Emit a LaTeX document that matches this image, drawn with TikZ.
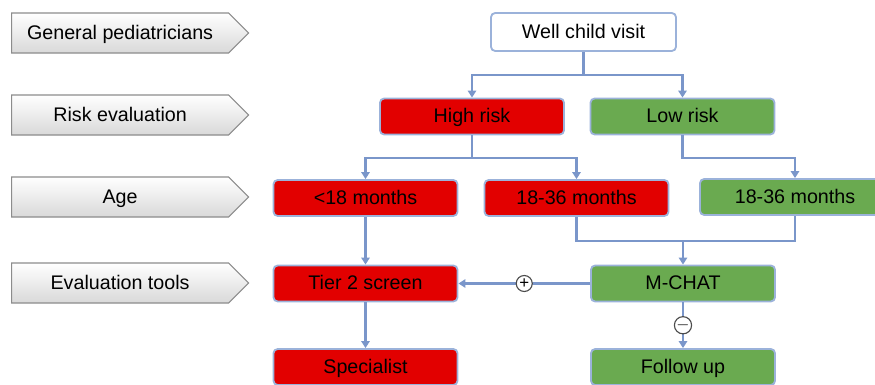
\documentclass[tikz,border=0pt]{standalone}
\usepackage{fontspec}
\setmainfont{Liberation Sans}
\usetikzlibrary{shapes.symbols,arrows.meta}
\definecolor{boxred}{RGB}{226,0,0}
\definecolor{boxgreen}{RGB}{106,170,80}
\definecolor{boxblue}{RGB}{155,178,218}
\definecolor{linkblue}{RGB}{122,150,202}
\definecolor{labelgray}{RGB}{140,140,140}

\begin{document}
\begin{tikzpicture}[x=0.025cm, y=-0.025cm, font=\fontsize{14}{16}\selectfont,
    stage/.style={signal, signal to=east, signal pointer angle=90, draw=labelgray, line width=0.8pt,
        top color=white, bottom color=gray!30, minimum width=5.925cm, minimum height=1cm, anchor=west,
        inner sep=0pt, text height=12pt, text depth=3pt},
    box/.style={rectangle, rounded corners=3pt, draw=boxblue, line width=1.3pt, minimum width=4.6cm,
        minimum height=0.9cm, inner sep=0pt, text height=12pt, text depth=3pt},
    hi/.style={box, fill=boxred},
    lo/.style={box, fill=boxgreen},
    conn/.style={draw=linkblue, line width=1.5pt},
    arr/.style={conn, -{Triangle[width=6pt,length=5pt]}},
    sign/.style={circle, draw=black!70, fill=white, line width=0.8pt, inner sep=0pt, minimum size=0.4cm,
        font=\fontsize{12}{12}\selectfont}]
    \useasboundingbox (0,0) rectangle (875,385);

    % row labels
    \node[stage] (gp) at (11,33) {General pediatricians};
    \node[stage] (risk) at (11,115) {Risk evaluation};
    \node[stage] (age) at (11,197) {Age};
    \node[stage] (tools) at (11,283) {Evaluation tools};

    % flow boxes
    \node[box, fill=white, minimum width=4.625cm, minimum height=0.95cm] (visit) at (583.5,32) {Well child visit};
    \node[hi] (high) at (472,116.5) {High risk};
    \node[lo] (low) at (682.5,116.5) {Low risk};
    \node[hi] (young) at (365.5,198) {<18 months};
    \node[hi] (oldhigh) at (576.5,198) {18-36 months};
    \node[lo, minimum width=4.75cm] (oldlow) at (795,197) {18-36 months};
    \node[hi] (tier) at (365.5,283.5) {Tier 2 screen};
    \node[lo] (mchat) at (683,283.5) {M-CHAT};
    \node[hi] (spec) at (365.5,367) {Specialist};
    \node[lo] (follow) at (683,367) {Follow up};

    \draw[conn] (visit.south) -- ++(0,23) coordinate (v1);
    \draw[arr] (v1) -| (high.north);
    \draw[arr] (v1) -| (low.north);
    \draw[conn] (high.south) -- ++(0,23) coordinate (h1);
    \draw[arr] (h1) -| (young.north);
    \draw[arr] (h1) -| (oldhigh.north);
    \draw[arr] (low.south) -- ++(0,23) -| (oldlow.north);
    \draw[conn] (oldhigh.south) -- ++(0,24) coordinate (m1) -| (oldlow.south);
    \draw[arr] (m1 -| mchat.north) -- (mchat.north);
    \draw[arr] (young.south) -- (tier.north);
    \draw[arr] (mchat.west) -- node[sign] (plus) {+} (tier.east);
    \draw[arr] (mchat.south) -- node[sign] (minus) {$-$} (follow.north);
    \draw[arr] (tier.south) -- (spec.north);
\end{tikzpicture}
\end{document}
